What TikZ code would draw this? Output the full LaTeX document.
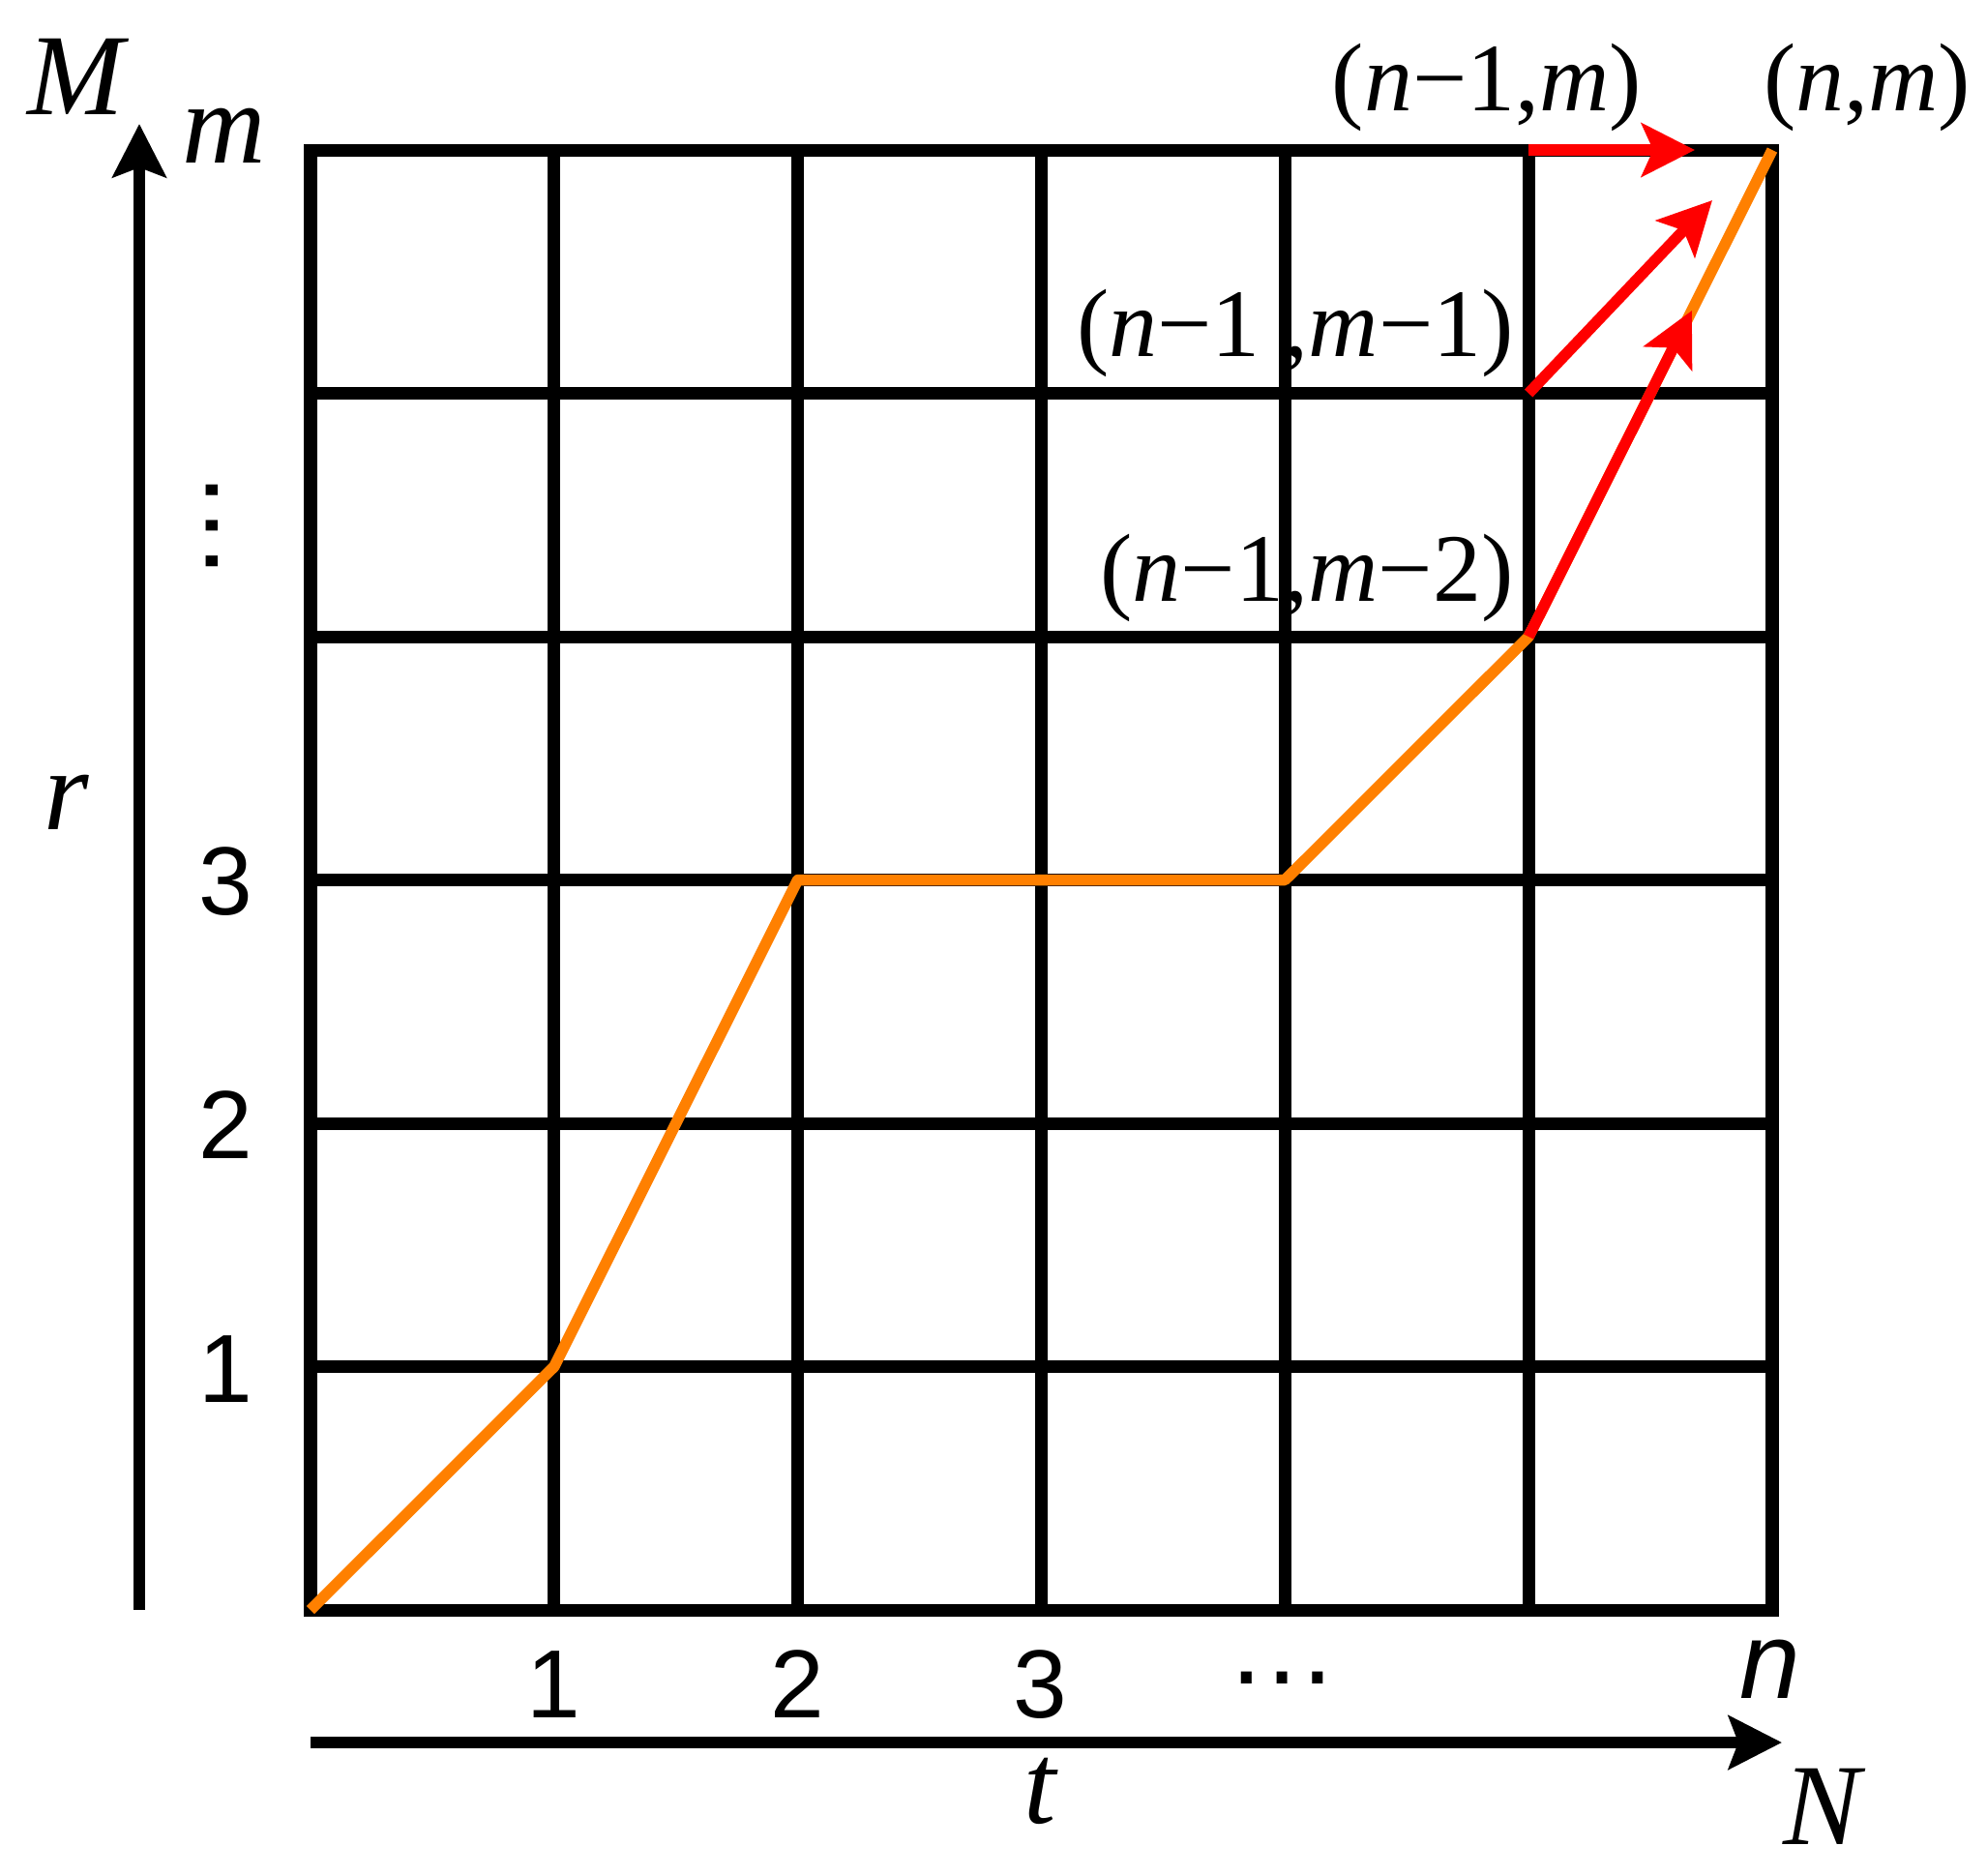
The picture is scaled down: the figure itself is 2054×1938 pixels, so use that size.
\documentclass[tikz,border=0pt]{standalone}
\usepackage{fontspec}
\setmainfont{Liberation Serif}
\newfontfamily\arialf{Liberation Sans}
\usetikzlibrary{arrows.meta,calc}
\definecolor{pathorange}{RGB}{255,128,0}
\begin{document}
\begin{tikzpicture}[x=0.01cm,y=-0.01cm,
  gridline/.style={line width=0.13cm, black},
  pathline/.style={line width=0.115cm, draw=pathorange, line join=round},
  redarrow/.style={line width=0.115cm, red, -{Stealth[length=0.55cm,width=0.55cm,inset=0.12cm]}},
  axisarrow/.style={line width=0.12cm, black, -{Stealth[length=0.55cm,width=0.55cm,inset=0.1cm]}},
  tlabel/.style={inner sep=0, anchor=base, font=\fontsize{28.45}{34}\selectfont},
  biglabel/.style={inner sep=0, anchor=base, font=\fontsize{34}{40}\selectfont\itshape},
  numlabel/.style={inner sep=0, anchor=base, font=\arialf\fontsize{28.45}{34}\selectfont},
  dotslabel/.style={inner sep=0, anchor=base, font=\arialf\fontsize{33}{40}\selectfont},
]
\useasboundingbox (0,0) rectangle (2054,1938);
% grid coordinates
\foreach \i in {0,...,6}{
  \foreach \j in {0,...,6}{
    \coordinate (g\i\j) at ({321+251.83*\i},{1664-251.5*\j});
  }
}
% grid
\foreach \i in {1,...,5}{
  \draw[gridline] (g\i0) -- (g\i6);
  \draw[gridline] (g0\i) -- (g6\i);
}
\draw[gridline, line join=miter] (g00) rectangle (g66);
% orange path
\draw[pathline] (g00) -- (g11) -- (g23) -- (g43) -- (g54) -- (g66);
% red arrows
\coordinate (tipA) at (1752,155);
\coordinate (tipB) at (1770,207);
\coordinate (tipC) at ($(g54)!0.67!(g66)$);
\draw[redarrow] (g56) -- (tipA);
\draw[redarrow] (g55) -- (tipB);
\draw[redarrow] (g54) -- (tipC);
% axes
\coordinate (vaxS) at (144,1664);
\coordinate (vaxE) at (144,128);
\coordinate (haxS) at (321,1801);
\coordinate (haxE) at (1842,1801);
\draw[axisarrow] (vaxS) -- (vaxE);
\draw[axisarrow] (haxS) -- (haxE);
% axis labels
\node[biglabel] (lM) at (78,118) {M};
\node[biglabel] (lm) at (232,168) {m};
\node[biglabel] (lr) at (69,857) {r};
\node[biglabel] (lt) at (1075,1884) {t};
\node[biglabel] (lN) at (1883,1906) {N};
\node[dotslabel, rotate=90] (lvd) at (225,543) {…};
\node[numlabel] (ly1) at (233,1449) {1};
\node[numlabel] (ly2) at (233,1197) {2};
\node[numlabel] (ly3) at (233,945) {3};
\node[numlabel] (lx1) at (572,1775) {1};
\node[numlabel] (lx2) at (824,1775) {2};
\node[numlabel] (lx3) at (1075,1775) {3};
\node[dotslabel] (lxd) at (1326,1740) {…};
\node[dotslabel, font=\arialf\fontsize{32}{38}\selectfont\itshape] (lxn) at (1830,1755) {n};
% point labels
\node[tlabel] (pA) at (1537,114) {(\textit{n}−1,\textit{m})};
\node[tlabel] (pN) at (1930,114) {(\textit{n},\textit{m})};
\node[tlabel] (pB) at (1339,368) {(\textit{n}−1 ,\textit{m}−1)};
\node[tlabel] (pC) at (1351,621) {(\textit{n}−1,\textit{m}−2)};
\end{tikzpicture}
\end{document}
